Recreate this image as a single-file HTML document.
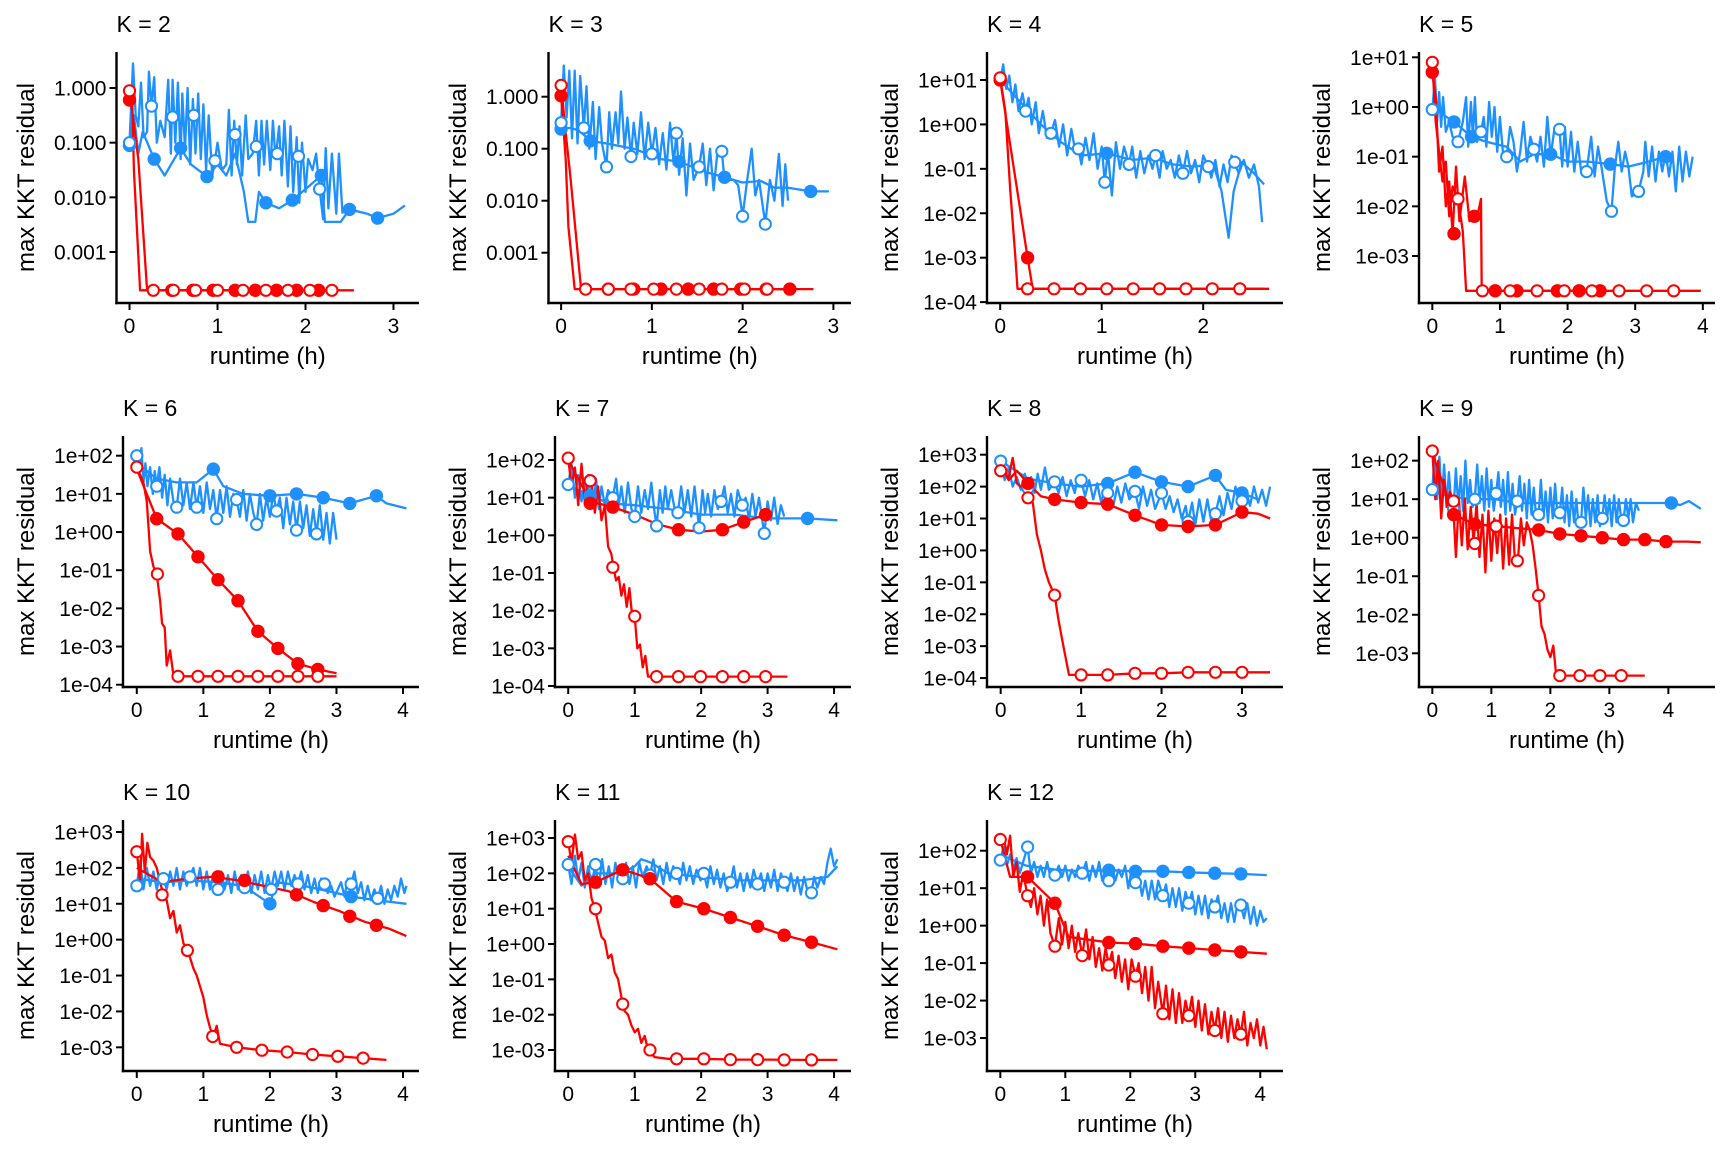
<!DOCTYPE html>
<html><head><meta charset="utf-8"><title>KKT residual vs runtime</title>
<style>
html,body{margin:0;padding:0;background:#fff;}
svg{display:block;font-family:"Liberation Sans",Arial,sans-serif;}
</style></head>
<body>
<svg id="chart" width="1728" height="1152" viewBox="0 0 1728 1152" xmlns="http://www.w3.org/2000/svg">
<rect x="0" y="0" width="1728" height="1152" fill="#fff"/>
</svg>
<script>
// ---- panel data (values in log10 of max KKT residual, x in hours) ----
const panelK = [2,3,4,5,6,7,8,9,10,11,12];
const xDomains = [[-0.148,3.29],[-0.139,3.194],[-0.13,2.786],[-0.197,4.18],[-0.207,4.24],[-0.199,4.255],[-0.17,3.51],[-0.226,4.79],[-0.207,4.24],[-0.199,4.255],[-0.205,4.35]];
const yDomains = [[-3.933,0.659],[-3.967,0.86],[-4.02,1.63],[-3.946,1.107],[-4.06,2.516],[-4.027,2.637],[-4.28,3.586],[-3.875,2.64],[-3.66,3.334],[-3.594,3.51],[-3.88,2.82]];
const yTickExps = [[0,-1,-2,-3],[0,-1,-2,-3],[1,0,-1,-2,-3,-4],[1,0,-1,-2,-3],[2,1,0,-1,-2,-3,-4],[2,1,0,-1,-2,-3,-4],[3,2,1,0,-1,-2,-3,-4],[2,1,0,-1,-2,-3],[3,2,1,0,-1,-2,-3],[3,2,1,0,-1,-2,-3],[2,1,0,-1,-2,-3]];
const yTickStyle = ["dec","dec","sci","sci","sci","sci","sci","sci","sci","sci","sci"];
const xTicks = [[0,1,2,3],[0,1,2,3],[0,1,2],[0,1,2,3,4],[0,1,2,3,4],[0,1,2,3,4],[0,1,2,3],[0,1,2,3,4],[0,1,2,3,4],[0,1,2,3,4],[0,1,2,3,4]];

// K=2
const k2_blueO = [[0,-1],[0.04,0.45],[0.07,-0.5],[0.1,-0.7],[0.13,0.1],[0.16,-0.9],[0.2,-0.8],[0.22,0.3],[0.25,-0.33],[0.28,0.2],[0.31,-1.0],[0.35,-0.6],[0.4,-0.9],[0.44,0.15],[0.47,-1.2],[0.49,0.15],[0.52,-1.0],[0.55,0.1],[0.58,-1.3],[0.6,-0.1],[0.63,-1.1],[0.66,0.0],[0.69,-1.4],[0.72,-0.2],[0.75,-1.2],[0.78,-0.1],[0.81,-1.3],[0.84,-0.3],[0.87,-1.5],[0.9,-0.5],[0.94,-1.6],[0.97,-1.33],[1.0,-1.0],[1.05,-1.5],[1.1,-1.4],[1.13,-0.4],[1.16,-1.6],[1.19,-0.6],[1.22,-1.4],[1.25,-0.7],[1.28,-1.6],[1.32,-0.5],[1.35,-1.3],[1.4,-1.2],[1.44,-0.6],[1.47,-1.6],[1.5,-0.6],[1.53,-1.4],[1.56,-0.6],[1.6,-1.5],[1.63,-0.6],[1.66,-1.3],[1.7,-0.7],[1.73,-1.6],[1.76,-0.6],[1.8,-1.8],[1.83,-0.7],[1.86,-1.9],[1.9,-0.9],[1.93,-2.1],[1.96,-1.0],[2.0,-1.9],[2.03,-1.3],[2.08,-1.5],[2.12,-1.2],[2.16,-1.85],[2.2,-2.4],[2.23,-1.1],[2.26,-2.2],[2.3,-1.2],[2.35,-2.3],[2.38,-1.2],[2.42,-2.3]];
const k2_blueO_mk = [[0,-1],[0.25,-0.33],[0.49,-0.53],[0.73,-0.5],[0.97,-1.33],[1.2,-0.85],[1.44,-1.07],[1.68,-1.2],[1.92,-1.25],[2.16,-1.85]];
const k2_blueF = [[0,-1.05],[0.05,-0.5],[0.1,-1.2],[0.15,-0.8],[0.28,-1.3],[0.4,-1.6],[0.58,-1.1],[0.7,-1.4],[0.88,-1.62],[1.0,-1.4],[1.1,-1.6],[1.2,-1.2],[1.3,-1.9],[1.35,-2.45],[1.43,-2.45],[1.47,-1.9],[1.55,-2.1],[1.7,-2.2],[1.85,-2.05],[2.0,-1.85],[2.18,-1.6],[2.22,-2.45],[2.4,-2.45],[2.5,-2.22],[2.7,-2.3],[2.82,-2.38],[3.0,-2.3],[3.13,-2.15]];
const k2_blueF_mk = [[0,-1.05],[0.28,-1.3],[0.58,-1.1],[0.88,-1.62],[1.55,-2.1],[1.85,-2.05],[2.18,-1.6],[2.5,-2.22],[2.82,-2.38]];
const k2_redO = [[0,-0.05],[0.1,-1.3],[0.2,-3.7],[2.55,-3.7]];
const k2_redO_mk = [[0,-0.05],[0.27,-3.7],[0.5,-3.7],[0.75,-3.7],[1.0,-3.7],[1.29,-3.7],[1.55,-3.7],[1.8,-3.7],[2.05,-3.7],[2.3,-3.7]];
const k2_redF = [[0,-0.22],[0.03,-0.2],[0.05,-1.5],[0.12,-3.7],[2.2,-3.7]];
const k2_redF_mk = [[0,-0.22],[0.48,-3.7],[0.72,-3.7],[0.95,-3.7],[1.2,-3.7],[1.43,-3.7],[1.67,-3.7],[1.9,-3.7],[2.15,-3.7]];

// K=3
const k3_blueO = [[0,-0.5],[0.03,0.6],[0.06,-0.4],[0.09,0.5],[0.12,-0.8],[0.15,0.5],[0.18,-0.9],[0.21,0.4],[0.25,-0.6],[0.28,0.2],[0.31,-1.0],[0.35,-0.1],[0.38,-1.2],[0.42,-0.2],[0.45,-0.9],[0.5,-1.35],[0.53,-0.3],[0.56,-1.0],[0.6,-0.3],[0.63,-0.9],[0.66,0.1],[0.7,-1.0],[0.73,-0.4],[0.77,-1.15],[0.8,-0.5],[0.84,-1.1],[0.88,-0.3],[0.92,-1.2],[0.96,-0.5],[1.0,-1.1],[1.04,-0.6],[1.08,-1.3],[1.12,-0.7],[1.16,-1.4],[1.2,-0.5],[1.24,-1.3],[1.27,-0.7],[1.3,-1.5],[1.34,-0.8],[1.38,-1.9],[1.42,-0.9],[1.46,-1.6],[1.52,-1.35],[1.56,-0.9],[1.6,-1.7],[1.64,-1.0],[1.68,-1.8],[1.72,-1.1],[1.77,-1.05],[1.8,-1.6],[1.9,-1.6],[1.95,-1.7],[2.0,-2.3],[2.05,-1.6],[2.1,-1.0],[2.14,-1.9],[2.18,-1.6],[2.25,-2.45],[2.3,-1.6],[2.35,-2.0],[2.4,-1.1],[2.44,-2.1],[2.47,-1.3],[2.5,-2.0]];
const k3_blueO_mk = [[0,-0.5],[0.25,-0.6],[0.5,-1.35],[0.77,-1.15],[1.0,-1.1],[1.27,-0.7],[1.52,-1.35],[1.77,-1.05],[2.0,-2.3],[2.25,-2.45]];
const k3_blueF = [[0,-0.62],[0.1,-0.6],[0.2,-0.65],[0.32,-0.85],[0.5,-0.9],[0.8,-1.0],[1.1,-1.2],[1.3,-1.25],[1.6,-1.45],[1.8,-1.55],[2.0,-1.65],[2.2,-1.62],[2.35,-1.75],[2.5,-1.75],[2.75,-1.82],[2.95,-1.82]];
const k3_blueF_mk = [[0,-0.62],[0.32,-0.85],[1.3,-1.25],[1.8,-1.55],[2.75,-1.82]];
const k3_redO = [[0,0.22],[0.05,-0.7],[0.1,-1.5],[0.22,-3.7],[2.78,-3.7]];
const k3_redO_mk = [[0,0.22],[0.27,-3.7],[0.52,-3.7],[0.77,-3.7],[1.02,-3.7],[1.27,-3.7],[1.52,-3.7],[1.77,-3.7],[2.02,-3.7],[2.27,-3.7]];
const k3_redF = [[0,0.02],[0.05,-1.2],[0.08,-2.5],[0.15,-3.7],[2.52,-3.7]];
const k3_redF_mk = [[0,0.02],[0.52,-3.7],[0.8,-3.7],[1.1,-3.7],[1.4,-3.7],[1.68,-3.7],[1.98,-3.7],[2.26,-3.7],[2.52,-3.7]];

// K=4
const k4_blueO = [[0,1.0],[0.03,1.35],[0.06,0.8],[0.09,1.1],[0.12,0.5],[0.15,0.9],[0.18,0.3],[0.22,0.7],[0.25,0.3],[0.28,0.6],[0.31,0.0],[0.35,0.5],[0.38,-0.2],[0.42,0.3],[0.46,-0.3],[0.5,-0.2],[0.54,0.1],[0.58,-0.5],[0.62,0.0],[0.66,-0.7],[0.7,-0.1],[0.74,-0.6],[0.77,-0.55],[0.8,-0.9],[0.84,-0.3],[0.88,-0.8],[0.92,-0.2],[0.96,-1.0],[1.0,-0.5],[1.03,-1.3],[1.06,-0.6],[1.1,-1.6],[1.14,-0.4],[1.18,-1.0],[1.22,-0.5],[1.27,-0.9],[1.3,-0.5],[1.34,-1.2],[1.38,-0.6],[1.42,-1.1],[1.46,-0.7],[1.5,-1.0],[1.53,-0.7],[1.57,-1.2],[1.6,-0.6],[1.64,-1.0],[1.68,-0.8],[1.72,-1.2],[1.76,-0.7],[1.8,-1.1],[1.84,-0.6],[1.88,-1.1],[1.92,-0.8],[1.96,-1.3],[2.0,-0.7],[2.05,-0.95],[2.08,-1.2],[2.12,-0.8],[2.16,-1.4],[2.2,-0.9],[2.24,-1.3],[2.28,-0.7],[2.31,-0.85],[2.35,-1.1],[2.4,-0.8],[2.45,-1.2],[2.5,-0.9],[2.55,-1.4],[2.58,-2.2]];
const k4_blueO_mk = [[0,1.0],[0.25,0.3],[0.5,-0.2],[0.77,-0.55],[1.03,-1.3],[1.27,-0.9],[1.53,-0.7],[1.8,-1.1],[2.05,-0.95],[2.31,-0.85]];
const k4_blueF = [[0,1.0],[0.2,0.5],[0.4,0.0],[0.6,-0.4],[0.8,-0.7],[1.05,-0.65],[1.3,-0.8],[1.5,-0.75],[1.7,-0.9],[1.9,-0.95],[2.1,-0.9],[2.18,-1.5],[2.25,-2.55],[2.3,-1.5],[2.38,-0.85],[2.5,-1.1],[2.6,-1.35]];
const k4_blueF_mk = [[1.05,-0.65]];
const k4_redO = [[0,1.05],[0.05,0.3],[0.1,-1.5],[0.15,-3.0],[0.17,-3.7],[2.65,-3.7]];
const k4_redO_mk = [[0,1.05],[0.27,-3.7],[0.53,-3.7],[0.79,-3.7],[1.05,-3.7],[1.31,-3.7],[1.57,-3.7],[1.83,-3.7],[2.09,-3.7],[2.36,-3.7]];
const k4_redF = [[0,1.0],[0.27,-3.0],[0.32,-3.7],[2.6,-3.7]];
const k4_redF_mk = [[0,1.0],[0.27,-3.0]];

// K=5
const k5_blueO = [[0,-0.05],[0.04,0.6],[0.07,-0.3],[0.1,0.3],[0.13,-0.4],[0.16,0.2],[0.2,-0.5],[0.25,-0.3],[0.3,-0.6],[0.38,-0.7],[0.45,-0.3],[0.5,0.2],[0.53,-0.8],[0.57,0.1],[0.6,-0.6],[0.63,0.2],[0.66,-0.7],[0.72,-0.5],[0.76,-0.2],[0.8,-0.8],[0.84,0.1],[0.88,-0.6],[0.92,0.0],[0.96,-0.9],[1.0,-0.2],[1.05,-1.0],[1.1,-1.0],[1.15,-0.4],[1.2,-0.7],[1.25,-1.3],[1.3,-0.9],[1.35,-0.3],[1.4,-1.1],[1.45,-0.6],[1.5,-0.85],[1.55,-1.1],[1.6,-0.6],[1.65,-1.2],[1.7,-0.2],[1.75,-1.0],[1.8,-0.5],[1.88,-0.45],[1.92,-1.2],[1.96,-0.4],[2.0,-1.2],[2.05,-0.5],[2.1,-1.3],[2.15,-0.7],[2.2,-1.3],[2.28,-1.3],[2.35,-0.6],[2.4,-1.4],[2.45,-0.8],[2.5,-1.2],[2.58,-1.9],[2.65,-2.1],[2.7,-1.2],[2.75,-0.7],[2.8,-1.3],[2.85,-0.9],[2.9,-1.2],[2.95,-1.8],[3.05,-1.7],[3.12,-1.3],[3.15,-0.7],[3.2,-1.4],[3.25,-0.8],[3.3,-1.5],[3.35,-0.9],[3.4,-1.3],[3.45,-0.9],[3.5,-1.4],[3.55,-0.9],[3.6,-1.7],[3.65,-0.8],[3.7,-1.5],[3.75,-0.9],[3.8,-1.4],[3.85,-1.0]];
const k5_blueO_mk = [[0,-0.05],[0.38,-0.7],[0.72,-0.5],[1.1,-1.0],[1.5,-0.85],[1.88,-0.45],[2.28,-1.3],[2.65,-2.1],[3.05,-1.7]];
const k5_blueF = [[0,-0.05],[0.1,-0.1],[0.32,-0.3],[0.58,-0.6],[0.8,-0.7],[1.1,-0.8],[1.3,-1.1],[1.5,-0.95],[1.75,-0.95],[2.0,-1.1],[2.3,-1.1],[2.63,-1.15],[2.9,-1.2],[3.2,-1.1],[3.45,-1.0]];
const k5_blueF_mk = [[0.32,-0.3],[0.58,-0.6],[1.75,-0.95],[2.63,-1.15],[3.45,-1.0]];
const k5_redO = [[0,0.9],[0.05,-0.3],[0.1,-0.9],[0.15,-1.5],[0.2,-1.1],[0.25,-2.2],[0.3,-1.6],[0.38,-1.85],[0.45,-2.5],[0.5,-3.7],[3.97,-3.7]];
const k5_redO_mk = [[0,0.9],[0.38,-1.85],[0.74,-3.7],[1.15,-3.7],[1.55,-3.7],[1.95,-3.7],[2.36,-3.7],[2.76,-3.7],[3.17,-3.7],[3.57,-3.7]];
const k5_redF = [[0,0.7],[0.05,0.2],[0.1,-1.3],[0.15,-0.8],[0.2,-2.0],[0.25,-1.5],[0.3,-2.55],[0.35,-1.2],[0.4,-2.3],[0.48,-1.4],[0.55,-2.3],[0.6,-2.15],[0.65,-2.3],[0.72,-1.85],[0.73,-3.7],[2.5,-3.7]];
const k5_redF_mk = [[0,0.7],[0.32,-2.55],[0.62,-2.2],[0.93,-3.7],[1.25,-3.7],[1.85,-3.7],[2.17,-3.7],[2.48,-3.7]];

// K=6
const k6_blueO = [[0,2.0],[0.04,1.5],[0.07,2.2],[0.1,1.3],[0.13,1.8],[0.16,1.2],[0.2,1.7],[0.24,1.0],[0.27,1.6],[0.3,1.2],[0.34,1.7],[0.38,0.9],[0.42,1.5],[0.46,0.7],[0.5,1.4],[0.55,0.8],[0.6,0.65],[0.65,1.4],[0.7,0.7],[0.75,1.3],[0.8,0.6],[0.85,1.3],[0.9,0.65],[0.95,1.2],[1.0,0.5],[1.05,1.3],[1.1,0.6],[1.15,1.1],[1.2,0.35],[1.25,1.1],[1.3,0.5],[1.35,1.2],[1.4,0.4],[1.45,1.0],[1.5,0.85],[1.55,0.4],[1.6,1.1],[1.65,0.3],[1.7,1.0],[1.75,0.5],[1.8,0.2],[1.85,1.0],[1.9,0.3],[1.95,0.9],[2.0,0.4],[2.05,1.0],[2.1,0.55],[2.15,0.9],[2.2,0.1],[2.25,0.9],[2.3,0.2],[2.35,0.8],[2.4,0.05],[2.45,0.8],[2.5,0.1],[2.55,0.7],[2.6,-0.1],[2.65,0.6],[2.7,-0.05],[2.75,0.7],[2.8,-0.2],[2.85,0.5],[2.9,-0.3],[2.95,0.5],[3.0,-0.2]];
const k6_blueO_mk = [[0,2.0],[0.3,1.2],[0.6,0.65],[0.9,0.65],[1.2,0.35],[1.5,0.85],[1.8,0.2],[2.1,0.55],[2.4,0.05],[2.7,-0.05]];
const k6_blueF = [[0,1.8],[0.3,1.4],[0.6,1.3],[0.9,1.3],[1.15,1.65],[1.3,1.2],[1.6,1.0],[2.0,0.95],[2.4,1.0],[2.8,0.9],[3.2,0.75],[3.6,0.95],[3.75,0.75],[4.05,0.62]];
const k6_blueF_mk = [[1.15,1.65],[2.0,0.95],[2.4,1.0],[2.8,0.9],[3.2,0.75],[3.6,0.95]];
const k6_redO = [[0,1.7],[0.1,1.3],[0.15,0.8],[0.2,-0.5],[0.25,-0.9],[0.3,-1.1],[0.35,-1.8],[0.38,-2.4],[0.42,-2.5],[0.45,-3.5],[0.5,-3.1],[0.55,-3.75],[0.6,-3.78],[3.0,-3.78]];
const k6_redO_mk = [[0,1.7],[0.31,-1.1],[0.62,-3.78],[0.92,-3.78],[1.22,-3.78],[1.52,-3.78],[1.82,-3.78],[2.12,-3.78],[2.42,-3.78],[2.72,-3.78]];
const k6_redF = [[0,1.65],[0.3,0.35],[0.62,-0.05],[0.92,-0.65],[1.22,-1.25],[1.52,-1.8],[1.82,-2.6],[2.12,-3.05],[2.42,-3.45],[2.72,-3.6],[3.0,-3.7]];
const k6_redF_mk = [[0.3,0.35],[0.62,-0.05],[0.92,-0.65],[1.22,-1.25],[1.52,-1.8],[1.82,-2.6],[2.12,-3.05],[2.42,-3.45],[2.72,-3.6]];

// K=7
const k7_blueO = [[0,1.35],[0.05,1.9],[0.1,1.0],[0.15,1.6],[0.2,0.9],[0.25,1.4],[0.3,1.2],[0.33,1.45],[0.38,0.8],[0.42,1.5],[0.46,0.7],[0.5,1.3],[0.55,0.8],[0.6,1.2],[0.67,1.0],[0.72,1.5],[0.76,0.8],[0.8,1.3],[0.85,0.6],[0.9,1.4],[0.95,0.7],[1.0,0.5],[1.05,1.3],[1.1,0.6],[1.15,1.2],[1.2,0.7],[1.25,1.4],[1.3,0.6],[1.33,0.25],[1.38,1.2],[1.42,0.6],[1.46,1.3],[1.5,0.7],[1.55,1.2],[1.6,0.7],[1.65,0.6],[1.7,1.3],[1.75,0.6],[1.8,1.2],[1.85,0.5],[1.9,1.3],[1.97,0.2],[2.02,1.2],[2.06,0.6],[2.1,1.1],[2.15,0.5],[2.2,1.2],[2.25,0.7],[2.3,0.9],[2.35,1.3],[2.4,0.6],[2.45,1.1],[2.5,0.5],[2.55,1.2],[2.62,0.8],[2.67,1.0],[2.72,0.4],[2.77,1.1],[2.82,0.5],[2.87,1.0],[2.92,0.4],[2.95,0.05],[3.0,0.9],[3.05,0.4],[3.1,1.0],[3.15,0.3],[3.2,0.8],[3.25,0.5]];
const k7_blueO_mk = [[0,1.35],[0.33,1.45],[0.67,1.0],[1.0,0.5],[1.33,0.25],[1.65,0.6],[1.97,0.2],[2.3,0.9],[2.62,0.8],[2.95,0.05]];
const k7_blueF = [[0,1.3],[0.3,1.1],[0.6,0.85],[1.0,0.8],[1.5,0.7],[2.0,0.55],[2.5,0.55],[3.0,0.45],[3.6,0.45],[4.05,0.4]];
const k7_blueF_mk = [[0.33,1.05],[3.6,0.45]];
const k7_redO = [[0,2.05],[0.05,1.3],[0.1,1.8],[0.15,0.8],[0.2,1.9],[0.25,0.9],[0.3,1.6],[0.35,1.45],[0.4,0.6],[0.45,1.3],[0.5,0.4],[0.55,0.8],[0.6,-0.3],[0.65,-0.5],[0.68,-0.85],[0.72,-1.2],[0.76,-1.1],[0.8,-1.6],[0.84,-1.3],[0.88,-1.9],[0.92,-1.4],[0.96,-2.1],[1.0,-2.15],[1.04,-3.0],[1.08,-2.9],[1.12,-3.5],[1.16,-3.2],[1.2,-3.75],[1.3,-3.75],[3.3,-3.75]];
const k7_redO_mk = [[0,2.05],[0.33,1.45],[0.67,-0.85],[1.0,-2.15],[1.33,-3.75],[1.66,-3.75],[1.99,-3.75],[2.32,-3.75],[2.64,-3.75],[2.97,-3.75]];
const k7_redF = [[0,2.0],[0.33,0.9],[0.67,0.75],[1.0,0.55],[1.33,0.3],[1.66,0.15],[2.0,0.1],[2.32,0.15],[2.64,0.35],[2.97,0.55]];
const k7_redF_mk = [[0.33,0.85],[0.67,0.75],[1.66,0.15],[2.32,0.15],[2.64,0.35],[2.97,0.55]];

// K=8
const k8_blueO = [[0,2.8],[0.05,2.2],[0.1,2.6],[0.15,2.0],[0.2,2.3],[0.25,1.9],[0.3,2.4],[0.34,1.95],[0.38,2.3],[0.42,1.8],[0.46,2.4],[0.5,1.9],[0.55,2.6],[0.6,1.9],[0.67,2.15],[0.72,1.8],[0.77,2.3],[0.82,1.7],[0.87,2.2],[0.92,1.8],[0.96,2.3],[1.0,2.2],[1.05,1.7],[1.1,2.2],[1.15,1.6],[1.2,2.1],[1.25,1.5],[1.3,2.0],[1.33,1.8],[1.4,1.4],[1.45,2.0],[1.5,1.5],[1.55,2.1],[1.6,1.6],[1.67,1.85],[1.72,1.3],[1.77,2.0],[1.82,1.4],[1.87,1.9],[1.92,1.3],[2.0,1.8],[2.05,1.3],[2.1,1.7],[2.15,1.2],[2.2,1.6],[2.25,1.0],[2.3,1.4],[2.33,0.9],[2.38,1.5],[2.42,0.8],[2.47,1.6],[2.52,0.9],[2.57,1.6],[2.62,0.9],[2.67,1.15],[2.72,1.7],[2.77,1.1],[2.82,1.8],[2.87,1.3],[2.92,2.0],[2.97,1.4],[3.0,1.55],[3.05,1.9],[3.1,1.4],[3.15,2.0],[3.2,1.5],[3.25,1.9],[3.3,1.4],[3.35,2.0]];
const k8_blueO_mk = [[0,2.8],[0.34,1.95],[0.67,2.15],[1.0,2.2],[1.33,1.8],[1.67,1.85],[2.0,1.8],[2.33,0.9],[2.67,1.15],[3.0,1.55]];
const k8_blueF = [[0,2.8],[0.34,2.25],[0.67,2.1],[1.0,2.0],[1.33,2.1],[1.67,2.45],[2.0,2.15],[2.33,2.0],[2.67,2.35],[2.8,1.9],[3.0,1.8],[3.2,1.6]];
const k8_blueF_mk = [[1.33,2.1],[1.67,2.45],[2.0,2.15],[2.33,2.0],[2.67,2.35],[3.0,1.8]];
const k8_redO = [[0,2.5],[0.1,2.3],[0.15,2.9],[0.2,2.1],[0.3,1.9],[0.35,1.65],[0.4,1.5],[0.45,0.5],[0.5,0.0],[0.55,-0.6],[0.6,-1.0],[0.67,-1.4],[0.72,-2.2],[0.78,-3.0],[0.85,-3.9],[1.0,-3.9],[1.33,-3.9],[1.67,-3.85],[2.0,-3.85],[2.33,-3.82],[2.67,-3.82],[3.0,-3.82],[3.35,-3.82]];
const k8_redO_mk = [[0,2.5],[0.34,1.65],[0.67,-1.4],[1.0,-3.9],[1.33,-3.9],[1.67,-3.85],[2.0,-3.85],[2.33,-3.82],[2.67,-3.82],[3.0,-3.82]];
const k8_redF = [[0,2.7],[0.1,2.2],[0.2,2.5],[0.34,2.1],[0.5,1.7],[0.67,1.6],[1.0,1.5],[1.33,1.45],[1.67,1.1],[2.0,0.8],[2.33,0.75],[2.67,0.8],[3.0,1.2],[3.2,1.15],[3.35,1.0]];
const k8_redF_mk = [[0.34,2.1],[0.67,1.6],[1.0,1.5],[1.33,1.45],[1.67,1.1],[2.0,0.8],[2.33,0.75],[2.67,0.8],[3.0,1.2]];

// K=9
const k9_blueO = [[0,1.25],[0.04,2.2],[0.08,1.0],[0.12,2.1],[0.16,0.9],[0.2,1.9],[0.24,0.8],[0.28,1.7],[0.32,0.9],[0.36,0.75],[0.4,1.8],[0.44,0.8],[0.48,1.6],[0.52,0.7],[0.56,2.0],[0.6,0.9],[0.64,1.5],[0.68,0.8],[0.72,1.0],[0.76,1.9],[0.8,0.9],[0.84,1.6],[0.88,0.7],[0.92,1.8],[0.96,0.8],[1.0,1.5],[1.04,0.7],[1.08,1.15],[1.12,1.7],[1.16,0.8],[1.2,1.5],[1.24,0.6],[1.28,1.7],[1.32,0.7],[1.36,1.4],[1.4,0.6],[1.44,0.95],[1.48,1.6],[1.52,0.7],[1.56,1.4],[1.6,0.5],[1.64,1.5],[1.68,0.6],[1.72,1.3],[1.76,0.5],[1.8,0.6],[1.84,1.5],[1.88,0.5],[1.92,1.2],[1.96,0.4],[2.0,1.3],[2.04,0.5],[2.08,1.4],[2.12,0.6],[2.16,0.65],[2.2,1.3],[2.24,0.4],[2.28,1.1],[2.32,0.3],[2.36,1.2],[2.4,0.4],[2.44,1.0],[2.48,0.3],[2.52,0.4],[2.56,1.3],[2.6,0.5],[2.64,1.1],[2.68,0.3],[2.72,1.0],[2.76,0.4],[2.8,1.1],[2.84,0.3],[2.88,0.5],[2.92,1.1],[2.96,0.5],[3.0,1.0],[3.04,0.3],[3.08,1.1],[3.12,0.4],[3.16,1.0],[3.2,0.5],[3.24,0.45],[3.28,1.0],[3.32,0.5],[3.36,1.0],[3.4,0.4],[3.45,0.9],[3.5,0.7]];
const k9_blueO_mk = [[0,1.25],[0.36,0.75],[0.72,1.0],[1.08,1.15],[1.44,0.95],[1.8,0.6],[2.16,0.65],[2.52,0.4],[2.88,0.5],[3.24,0.45]];
const k9_blueF = [[0,1.2],[0.36,1.05],[0.72,1.0],[1.08,1.0],[1.44,0.9],[1.8,0.9],[2.16,0.9],[2.52,0.9],[2.88,0.9],[3.24,0.9],[3.6,0.9],[4.05,0.9],[4.2,0.85],[4.35,0.95],[4.55,0.75]];
const k9_blueF_mk = [[4.05,0.9]];
const k9_redO = [[0,2.25],[0.05,1.0],[0.1,2.0],[0.15,0.5],[0.2,1.5],[0.25,0.8],[0.3,1.2],[0.35,0.95],[0.4,-0.5],[0.45,1.0],[0.5,-0.2],[0.55,1.0],[0.6,-0.3],[0.65,0.8],[0.7,-0.1],[0.75,0.9],[0.8,-0.5],[0.85,0.6],[0.9,-0.9],[0.95,0.7],[1.0,-0.6],[1.05,0.5],[1.1,-0.4],[1.15,0.6],[1.2,-0.8],[1.25,0.5],[1.3,-0.7],[1.35,0.6],[1.4,-0.6],[1.45,-0.6],[1.5,0.5],[1.55,-0.2],[1.6,0.4],[1.65,0.2],[1.7,-0.2],[1.75,-0.8],[1.8,-1.5],[1.85,-2.3],[1.9,-2.5],[1.95,-2.9],[2.0,-3.1],[2.05,-2.8],[2.1,-3.6],[2.16,-3.58],[2.5,-3.58],[2.84,-3.58],[3.2,-3.58],[3.6,-3.58]];
const k9_redO_mk = [[0,2.25],[0.36,0.95],[0.72,-0.15],[1.08,0.3],[1.44,-0.6],[1.8,-1.5],[2.16,-3.58],[2.5,-3.58],[2.84,-3.58],[3.2,-3.58]];
const k9_redF = [[0,2.2],[0.36,0.6],[0.72,0.35],[1.08,0.3],[1.44,0.25],[1.8,0.2],[2.16,0.1],[2.52,0.05],[2.88,0.0],[3.24,-0.05],[3.6,-0.05],[3.96,-0.1],[4.32,-0.1],[4.55,-0.12]];
const k9_redF_mk = [[0.36,0.6],[0.72,0.35],[1.08,0.3],[1.8,0.2],[2.16,0.1],[2.52,0.05],[2.88,0.0],[3.24,-0.05],[3.6,-0.05],[3.96,-0.1]];

// K=10
const k10_blueO = [[0,1.5],[0.05,2.2],[0.1,1.4],[0.15,2.0],[0.2,1.5],[0.25,1.9],[0.3,1.4],[0.35,1.8],[0.4,1.7],[0.45,1.4],[0.5,1.9],[0.55,1.5],[0.6,2.0],[0.65,1.4],[0.7,1.9],[0.75,1.5],[0.8,1.75],[0.85,2.0],[0.9,1.5],[0.95,2.0],[1.0,1.4],[1.05,1.9],[1.1,1.4],[1.15,1.8],[1.22,1.4],[1.27,1.9],[1.32,1.4],[1.37,1.8],[1.42,1.3],[1.47,1.9],[1.52,1.4],[1.57,1.8],[1.62,1.45],[1.67,1.9],[1.72,1.3],[1.77,1.8],[1.82,1.4],[1.87,1.9],[1.92,1.3],[1.97,1.8],[2.02,1.4],[2.07,1.9],[2.12,1.5],[2.17,1.9],[2.22,1.4],[2.27,1.9],[2.32,1.5],[2.37,1.8],[2.42,1.55],[2.47,1.9],[2.52,1.4],[2.57,1.8],[2.62,1.3],[2.67,1.7],[2.72,1.3],[2.77,1.7],[2.82,1.55],[2.87,1.3],[2.92,1.5],[2.97,1.2],[3.02,1.4],[3.07,1.6],[3.12,1.2],[3.17,1.7],[3.22,1.55],[3.27,1.9],[3.32,1.3],[3.37,1.6],[3.42,1.1],[3.47,1.5],[3.52,1.1],[3.57,1.4],[3.62,1.15],[3.67,1.5],[3.72,1.0],[3.77,1.4],[3.82,1.1],[3.87,1.5],[3.92,1.2],[3.97,1.7],[4.02,1.3],[4.05,1.5]];
const k10_blueO_mk = [[0,1.5],[0.4,1.7],[0.8,1.75],[1.22,1.4],[1.62,1.45],[2.02,1.4],[2.42,1.55],[2.82,1.55],[3.22,1.55],[3.62,1.15]];
const k10_blueF = [[0,1.7],[0.4,1.6],[0.8,1.65],[1.2,1.6],[1.6,1.5],[2.0,1.0],[2.1,1.6],[2.5,1.5],[3.0,1.3],[3.22,1.2],[3.6,1.1],[4.05,1.0]];
const k10_blueF_mk = [[2.0,1.0],[3.22,1.2]];
const k10_redO = [[0,2.45],[0.05,1.6],[0.08,2.95],[0.12,1.9],[0.16,2.7],[0.2,2.3],[0.25,2.2],[0.3,2.0],[0.35,1.6],[0.4,1.25],[0.45,1.1],[0.5,0.6],[0.55,0.8],[0.6,0.2],[0.65,0.4],[0.7,-0.1],[0.76,-0.3],[0.8,-0.5],[0.85,-0.8],[0.9,-1.0],[0.95,-1.3],[1.0,-1.6],[1.05,-2.1],[1.1,-2.45],[1.15,-2.7],[1.2,-2.4],[1.25,-2.9],[1.5,-3.0],[1.88,-3.08],[2.26,-3.13],[2.64,-3.2],[3.02,-3.25],[3.4,-3.3],[3.75,-3.35]];
const k10_redO_mk = [[0,2.45],[0.38,1.25],[0.76,-0.3],[1.14,-2.7],[1.5,-3.0],[1.88,-3.08],[2.26,-3.13],[2.64,-3.2],[3.02,-3.25],[3.4,-3.3]];
const k10_redF = [[0,2.0],[0.38,1.6],[0.76,1.7],[1.14,1.75],[1.52,1.65],[1.9,1.5],[2.28,1.35],[2.66,1.05],[3.04,0.8],[3.42,0.5],[3.8,0.3],[4.05,0.1]];
const k10_redF_mk = [[1.22,1.75],[1.62,1.65],[2.4,1.25],[2.8,0.95],[3.2,0.65],[3.6,0.4]];

// K=11
const k11_blueO = [[0,2.25],[0.05,1.7],[0.1,2.5],[0.15,1.8],[0.2,2.3],[0.25,1.6],[0.3,2.2],[0.35,1.7],[0.41,2.25],[0.46,1.6],[0.51,2.4],[0.56,1.7],[0.61,2.2],[0.66,1.6],[0.71,2.3],[0.76,1.8],[0.82,1.85],[0.87,2.3],[0.92,1.7],[0.97,2.2],[1.02,1.6],[1.07,2.3],[1.12,1.9],[1.18,2.2],[1.23,1.95],[1.28,2.4],[1.33,1.8],[1.38,2.2],[1.43,1.7],[1.48,2.3],[1.53,1.8],[1.58,2.2],[1.63,2.0],[1.68,1.7],[1.73,2.3],[1.78,1.8],[1.83,2.2],[1.88,1.7],[1.93,2.1],[1.99,1.8],[2.04,2.0],[2.09,1.6],[2.14,2.2],[2.19,1.7],[2.24,2.1],[2.29,1.6],[2.34,2.0],[2.39,1.5],[2.44,1.75],[2.49,2.2],[2.54,1.6],[2.59,2.0],[2.64,1.5],[2.69,2.0],[2.74,1.6],[2.79,2.1],[2.85,1.7],[2.9,2.0],[2.95,1.5],[3.0,2.0],[3.05,1.6],[3.1,2.1],[3.15,1.5],[3.2,2.0],[3.25,1.75],[3.3,1.5],[3.35,2.0],[3.4,1.5],[3.45,1.9],[3.5,1.4],[3.55,1.9],[3.6,1.5],[3.66,1.45],[3.7,1.9],[3.75,1.6],[3.8,1.9],[3.85,1.7],[3.9,2.3],[3.95,2.7],[4.0,2.2],[4.05,2.4]];
const k11_blueO_mk = [[0,2.25],[0.41,2.25],[0.82,1.85],[1.23,1.95],[1.63,2.0],[2.04,2.0],[2.44,1.75],[2.85,1.7],[3.25,1.75],[3.66,1.45]];
const k11_blueF = [[0,2.2],[0.2,1.65],[0.41,2.0],[0.8,2.0],[1.0,2.2],[1.1,2.4],[1.25,2.3],[1.5,2.0],[2.0,1.9],[2.5,1.8],[3.0,1.8],[3.5,1.8],[3.9,1.9],[4.05,2.2]];
const k11_blueF_mk = [];
const k11_redO = [[0,2.9],[0.05,2.3],[0.1,3.1],[0.15,2.4],[0.2,2.6],[0.25,1.8],[0.3,2.0],[0.35,1.3],[0.4,1.0],[0.45,0.6],[0.5,0.2],[0.55,0.1],[0.6,-0.4],[0.65,-0.3],[0.7,-0.8],[0.75,-1.0],[0.8,-1.5],[0.85,-1.9],[0.9,-2.0],[0.95,-2.3],[1.0,-2.5],[1.05,-2.4],[1.1,-2.8],[1.15,-2.6],[1.2,-3.0],[1.25,-3.1],[1.3,-3.2],[1.5,-3.25],[2.0,-3.25],[2.5,-3.27],[3.0,-3.27],[3.5,-3.28],[4.05,-3.28]];
const k11_redO_mk = [[0,2.9],[0.41,1.0],[0.82,-1.7],[1.23,-3.0],[1.63,-3.25],[2.04,-3.25],[2.44,-3.27],[2.85,-3.27],[3.25,-3.28],[3.66,-3.28]];
const k11_redF = [[0,2.5],[0.2,1.7],[0.41,1.75],[0.82,2.1],[1.0,2.0],[1.23,1.85],[1.63,1.2],[2.04,1.0],[2.44,0.75],[2.85,0.5],[3.25,0.25],[3.66,0.05],[4.05,-0.15]];
const k11_redF_mk = [[0.41,1.75],[0.82,2.1],[1.23,1.85],[1.63,1.2],[2.04,1.0],[2.44,0.75],[2.85,0.5],[3.25,0.25],[3.66,0.05]];

// K=12
const k12_blueO = [[0,1.75],[0.05,2.1],[0.1,1.6],[0.15,1.9],[0.2,1.5],[0.25,1.8],[0.3,1.4],[0.35,1.7],[0.42,2.1],[0.47,1.4],[0.52,1.7],[0.57,1.3],[0.62,1.6],[0.67,1.3],[0.72,1.7],[0.77,1.3],[0.84,1.35],[0.9,1.6],[0.95,1.3],[1.0,1.6],[1.05,1.2],[1.1,1.5],[1.15,1.3],[1.2,1.6],[1.26,1.4],[1.32,1.7],[1.37,1.2],[1.42,1.6],[1.47,1.3],[1.52,1.7],[1.57,1.2],[1.62,1.5],[1.67,1.2],[1.72,1.6],[1.77,1.2],[1.82,1.5],[1.87,1.3],[1.92,1.6],[1.97,1.0],[2.02,1.5],[2.08,1.15],[2.13,1.3],[2.18,0.8],[2.23,1.2],[2.28,0.7],[2.33,1.2],[2.38,0.7],[2.43,1.2],[2.5,0.8],[2.55,1.1],[2.6,0.5],[2.65,1.0],[2.7,0.5],[2.75,1.0],[2.8,0.4],[2.85,0.9],[2.9,0.6],[2.95,0.9],[3.0,0.3],[3.05,0.8],[3.1,0.3],[3.15,0.8],[3.2,0.2],[3.25,0.7],[3.3,0.5],[3.35,0.8],[3.4,0.2],[3.45,0.6],[3.5,0.1],[3.55,0.6],[3.6,0.1],[3.65,0.6],[3.7,0.55],[3.75,0.2],[3.8,0.6],[3.85,0.05],[3.9,0.5],[3.95,0.0],[4.0,0.4],[4.05,0.1],[4.1,0.2]];
const k12_blueO_mk = [[0,1.75],[0.42,2.1],[0.84,1.35],[1.26,1.4],[1.67,1.2],[2.08,1.15],[2.5,0.8],[2.9,0.6],[3.3,0.5],[3.7,0.55]];
const k12_blueF = [[0,1.9],[0.4,1.6],[0.84,1.5],[1.26,1.45],[1.67,1.48],[2.08,1.45],[2.5,1.45],[2.9,1.42],[3.3,1.4],[3.7,1.38],[4.1,1.35]];
const k12_blueF_mk = [[1.67,1.48],[2.08,1.45],[2.5,1.45],[2.9,1.42],[3.3,1.4],[3.7,1.38]];
const k12_redO = [[0,2.3],[0.05,2.4],[0.1,1.9],[0.15,2.4],[0.2,1.3],[0.25,1.7],[0.3,0.9],[0.35,1.4],[0.42,0.8],[0.47,0.5],[0.52,1.0],[0.57,0.3],[0.62,0.8],[0.67,0.0],[0.72,0.7],[0.77,-0.2],[0.84,-0.55],[0.9,0.2],[0.95,-0.5],[1.0,0.1],[1.05,-0.6],[1.1,0.0],[1.15,-0.7],[1.2,-0.2],[1.26,-0.8],[1.32,-0.1],[1.37,-0.9],[1.42,-0.3],[1.47,-1.1],[1.52,-0.6],[1.57,-1.2],[1.62,-0.6],[1.67,-1.05],[1.72,-0.7],[1.77,-1.4],[1.82,-0.8],[1.87,-1.5],[1.92,-0.9],[1.97,-1.7],[2.02,-0.9],[2.08,-1.35],[2.13,-1.0],[2.18,-1.8],[2.23,-1.1],[2.28,-2.0],[2.33,-1.1],[2.38,-2.2],[2.43,-1.5],[2.5,-2.35],[2.55,-1.6],[2.6,-2.5],[2.65,-1.7],[2.7,-2.6],[2.75,-1.8],[2.8,-2.6],[2.85,-2.0],[2.9,-2.4],[2.95,-1.9],[3.0,-2.7],[3.05,-2.0],[3.1,-2.8],[3.15,-2.1],[3.2,-2.9],[3.25,-2.3],[3.3,-2.8],[3.35,-2.2],[3.4,-3.0],[3.45,-2.3],[3.5,-3.1],[3.55,-2.4],[3.6,-3.0],[3.65,-2.5],[3.7,-2.9],[3.75,-2.3],[3.8,-3.2],[3.85,-2.6],[3.9,-3.0],[3.95,-2.5],[4.0,-3.2],[4.05,-2.7],[4.1,-3.3]];
const k12_redO_mk = [[0,2.3],[0.42,0.8],[0.84,-0.55],[1.26,-0.8],[1.67,-1.05],[2.08,-1.35],[2.5,-2.35],[2.9,-2.4],[3.3,-2.8],[3.7,-2.9]];
const k12_redF = [[0,2.3],[0.15,1.3],[0.42,1.3],[0.6,1.0],[0.84,0.6],[1.05,-0.3],[1.26,-0.35],[1.67,-0.45],[2.08,-0.48],[2.5,-0.55],[2.9,-0.6],[3.3,-0.65],[3.7,-0.7],[4.1,-0.75]];
const k12_redF_mk = [[0.42,1.3],[0.84,0.6],[1.67,-0.45],[2.08,-0.48],[2.5,-0.55],[2.9,-0.6],[3.3,-0.65],[3.7,-0.7]];

const panelSeries = [
 [k2_blueF,k2_blueF_mk,k2_blueO,k2_blueO_mk,k2_redF,k2_redF_mk,k2_redO,k2_redO_mk],
 [k3_blueF,k3_blueF_mk,k3_blueO,k3_blueO_mk,k3_redF,k3_redF_mk,k3_redO,k3_redO_mk],
 [k4_blueF,k4_blueF_mk,k4_blueO,k4_blueO_mk,k4_redF,k4_redF_mk,k4_redO,k4_redO_mk],
 [k5_blueF,k5_blueF_mk,k5_blueO,k5_blueO_mk,k5_redF,k5_redF_mk,k5_redO,k5_redO_mk],
 [k6_blueF,k6_blueF_mk,k6_blueO,k6_blueO_mk,k6_redF,k6_redF_mk,k6_redO,k6_redO_mk],
 [k7_blueF,k7_blueF_mk,k7_blueO,k7_blueO_mk,k7_redF,k7_redF_mk,k7_redO,k7_redO_mk],
 [k8_blueF,k8_blueF_mk,k8_blueO,k8_blueO_mk,k8_redF,k8_redF_mk,k8_redO,k8_redO_mk],
 [k9_blueF,k9_blueF_mk,k9_blueO,k9_blueO_mk,k9_redF,k9_redF_mk,k9_redO,k9_redO_mk],
 [k10_blueF,k10_blueF_mk,k10_blueO,k10_blueO_mk,k10_redF,k10_redF_mk,k10_redO,k10_redO_mk],
 [k11_blueF,k11_blueF_mk,k11_blueO,k11_blueO_mk,k11_redF,k11_redF_mk,k11_redO,k11_redO_mk],
 [k12_blueF,k12_blueF_mk,k12_blueO,k12_blueO_mk,k12_redF,k12_redF_mk,k12_redO,k12_redO_mk]
];

// ---- rendering ----
const NS = "http://www.w3.org/2000/svg";
const svg = document.getElementById("chart");
const BLUE = "#1E90FF", RED = "#FF0000";
const seriesNames = ["blue-filled","blue-open","red-filled","red-open"];
const seriesColors = [BLUE,BLUE,RED,RED];
const seriesOpen = [false,true,false,true];

function mk(tag, attrs, parent){
  const e = document.createElementNS(NS, tag);
  for (const k in attrs) e.setAttribute(k, attrs[k]);
  parent.appendChild(e);
  return e;
}
function fmtTick(e, style){
  if (style === "dec") return Math.pow(10, e).toFixed(3);
  const a = Math.abs(e);
  return "1e" + (e < 0 ? "-" : "+") + (a < 10 ? "0" + a : "" + a);
}

panelK.forEach(function(K, i){
  const col = i % 4, row = Math.floor(i / 4);
  const ox = col * 432, oy = row * 384;
  const left = yTickStyle[i] === "dec" ? 116.5 : 123, right = 419, top = 52, bottom = 303;
  const xd = xDomains[i], yd = yDomains[i];
  const sx = function(v){ return ox + left + (v - xd[0]) / (xd[1] - xd[0]) * (right - left); };
  const sy = function(v){ return oy + bottom - (v - yd[0]) / (yd[1] - yd[0]) * (bottom - top); };

  const g = mk("g", {}, svg);
  
  

  const title = mk("text", {x: ox + left, y: oy + 32, "font-size": 23, fill: "#000"}, g);
  title.textContent = "K = " + K;
  
  

  const plotG = mk("g", {}, g);
  
  
  const ser = panelSeries[i];
  for (let s = 0; s < 4; s++){
    const line = ser[s*2];
    const pts = line.map(function(p){ return sx(p[0]).toFixed(1) + "," + sy(p[1]).toFixed(1); }).join(" ");
    const pl = mk("polyline", {points: pts, fill: "none", stroke: seriesColors[s], "stroke-width": 2.3, "stroke-linejoin": "round"}, plotG);
    
    
  }
  for (let s = 0; s < 4; s++){
    const marks = ser[s*2+1];
    marks.forEach(function(p){
      const c = mk("circle", {cx: sx(p[0]).toFixed(1), cy: sy(p[1]).toFixed(1), r: seriesOpen[s] ? 5.6 : 6.2,
        fill: seriesOpen[s] ? "#fff" : seriesColors[s], stroke: seriesColors[s], "stroke-width": seriesOpen[s] ? 2 : 1}, plotG);
      
      
    });
  }

  const ya = mk("line", {x1: ox + left, y1: oy + top, x2: ox + left, y2: oy + bottom + 1.2, stroke: "#000", "stroke-width": 2.4}, g);
  
  
  const xa = mk("line", {x1: ox + left - 1.2, y1: oy + bottom, x2: ox + right, y2: oy + bottom, stroke: "#000", "stroke-width": 2.4}, g);
  
  

  yTickExps[i].forEach(function(e){
    const y = sy(e);
    const t = mk("line", {x1: ox + left - 7, y1: y, x2: ox + left, y2: y, stroke: "#000", "stroke-width": 2}, g);
    
    
    const lb = mk("text", {x: ox + left - 10, y: y + 7.5, "font-size": 21, "text-anchor": "end", fill: "#000"}, g);
    lb.textContent = fmtTick(e, yTickStyle[i]);
    
    
  });
  xTicks[i].forEach(function(v){
    const x = sx(v);
    const t = mk("line", {x1: x, y1: oy + bottom, x2: x, y2: oy + bottom + 7, stroke: "#000", "stroke-width": 2}, g);
    
    
    const lb = mk("text", {x: x, y: oy + 333, "font-size": 21, "text-anchor": "middle", fill: "#000"}, g);
    lb.textContent = String(v);
    
    
  });

  const xt = mk("text", {x: ox + (left + right) / 2, y: oy + 364, "font-size": 24, "text-anchor": "middle", fill: "#000"}, g);
  xt.textContent = "runtime (h)";
  
  
  const cy = oy + (top + bottom) / 2;
  const yt = mk("text", {x: ox + 34, y: cy, "font-size": 24, "text-anchor": "middle", fill: "#000",
    transform: "rotate(-90 " + (ox + 34) + " " + cy + ")"}, g);
  yt.textContent = "max KKT residual";
  
  
});
</script>
</body></html>
